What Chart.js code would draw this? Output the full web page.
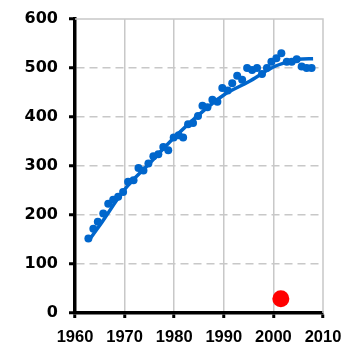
<!DOCTYPE html>
<html>
<head>
<meta charset="utf-8">
<script src="https://cdn.jsdelivr.net/npm/chart.js@4/dist/chart.umd.min.js"></script>
<style>
  html, body { margin: 0; padding: 0; background: #ffffff; }
  #wrap { width: 344px; height: 347px; }
</style>
</head>
<body>
<div id="wrap"><canvas id="chart" width="344" height="347"></canvas></div>
<script>
// Yearly observations (blue dots)
const years = [
  1962.7, 1963.7, 1964.6, 1965.7, 1966.7, 1967.7, 1968.7, 1969.7, 1970.7, 1971.8,
  1972.8, 1973.8, 1974.8, 1975.8, 1976.8, 1977.8, 1978.8, 1979.9, 1980.9, 1981.8,
  1982.8, 1983.8, 1984.8, 1985.7, 1986.7, 1987.7, 1988.7, 1989.7, 1990.8, 1991.7,
  1992.7, 1993.7, 1994.7, 1995.7, 1996.7, 1997.7, 1998.7, 1999.6, 2000.6, 2001.6,
  2002.7, 2003.7, 2004.7, 2005.7, 2006.7, 2007.7
];
const values = [
  152, 172, 186, 203, 223, 231, 237, 247, 268, 271,
  296, 291, 305, 320, 324, 339, 332, 358, 363, 358,
  385, 388, 402, 423, 420, 435, 431, 459, 454, 469,
  484, 476, 500, 496, 500, 488, 500, 513, 520, 530,
  513, 513, 518, 503, 500, 500
];

// Smoothed trend
const trendYears  = [1963, 1965, 1970, 1975, 1980, 1985, 1990, 1995, 2000, 2003, 2005, 2008];
const trendValues = [151, 179, 252, 305, 358, 405, 445, 472, 502, 513, 518, 519];

// Highlighted single value
const markYears  = [2001.5];
const markValues = [29];

// Axis ticks
const xTicks = [1960, 1970, 1980, 1990, 2000, 2010];
const yTicks = [0, 100, 200, 300, 400, 500, 600];

const BLUE = '#0066CC';
const RED = '#FF0000';
const GRID = '#c8c8c8';
const X_FONT = { family: 'Arial, "Liberation Sans", sans-serif', size: 16.5, weight: 'bold' };
const Y_FONT = { family: '"DejaVu Sans", Verdana, sans-serif', size: 16, weight: 'bold' };

const toXY = (xs, ys) => xs.map((x, i) => ({ x: x, y: ys[i] }));

// Gray frame on the top and right sides of the plot area
const frame = {
  id: 'frame',
  beforeDatasetsDraw(chart) {
    const { ctx, chartArea: a } = chart;
    ctx.save();
    ctx.strokeStyle = GRID;
    ctx.lineWidth = 1.5;
    ctx.beginPath();
    ctx.moveTo(a.left, a.top);
    ctx.lineTo(a.right, a.top);
    ctx.lineTo(a.right, a.bottom);
    ctx.stroke();
    ctx.restore();
  }
};

new Chart(document.getElementById('chart'), {
  type: 'scatter',
  data: {
    datasets: [
      {
        type: 'line',
        data: toXY(trendYears, trendValues),
        borderColor: BLUE,
        borderWidth: 3.5,
        pointRadius: 0,
        fill: false,
        cubicInterpolationMode: 'monotone',
        order: 2
      },
      {
        data: toXY(years, values),
        backgroundColor: BLUE,
        borderColor: BLUE,
        pointRadius: 4,
        borderWidth: 0,
        order: 1
      },
      {
        data: toXY(markYears, markValues),
        backgroundColor: RED,
        borderColor: RED,
        pointRadius: 8.5,
        borderWidth: 0,
        order: 0
      }
    ]
  },
  options: {
    responsive: false,
    devicePixelRatio: 1,
    animation: false,
    layout: { padding: { top: 19, right: 21, left: 0, bottom: 0 } },
    plugins: { legend: { display: false }, tooltip: { enabled: false } },
    scales: {
      x: {
        type: 'linear',
        min: 1960,
        max: 2010,
        afterBuildTicks: s => { s.ticks = xTicks.map(v => ({ value: v })); },
        afterFit: s => { s.height = 34; s.paddingLeft = 0; s.paddingRight = 0; },
        ticks: { color: '#000', font: X_FONT, padding: 10, maxRotation: 0, callback: v => String(v) },
        grid: {
          color: c => (c.tick && (c.tick.value === 1960 || c.tick.value === 2010)) ? 'rgba(0,0,0,0)' : GRID,
          lineWidth: 1.5,
          tickColor: '#000',
          tickLength: 5,
          tickWidth: 3
        },
        border: { display: true, color: '#000', width: 3.5 }
      },
      y: {
        min: 0,
        max: 600,
        afterBuildTicks: s => { s.ticks = yTicks.map(v => ({ value: v })); },
        afterFit: s => { s.width = 75; s.paddingTop = 0; s.paddingBottom = 0; },
        ticks: { color: '#000', font: Y_FONT, padding: 11 },
        grid: {
          color: c => (c.tick && (c.tick.value === 0 || c.tick.value === 600)) ? 'rgba(0,0,0,0)' : GRID,
          lineWidth: 1.5,
          tickColor: '#000',
          tickLength: 6,
          tickWidth: 3
        },
        border: { display: true, color: '#000', width: 3.5, dash: [8, 5] }
      }
    }
  },
  plugins: [frame]
});
</script>
</body>
</html>
